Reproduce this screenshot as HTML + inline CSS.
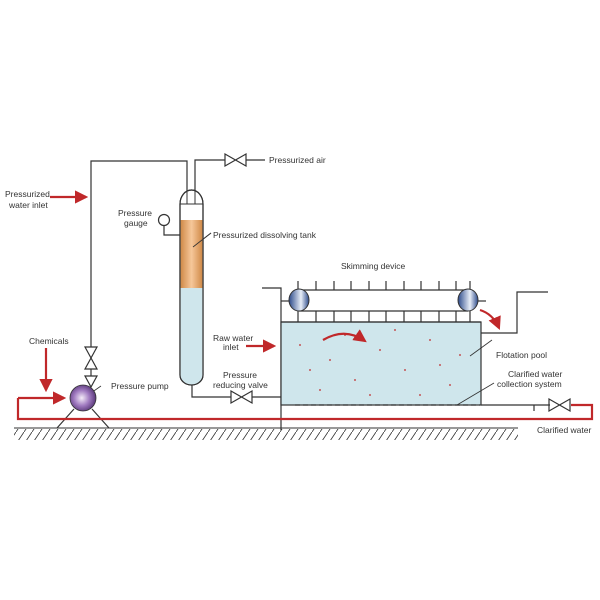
<!DOCTYPE html>
<html><head><meta charset="utf-8"><style>
html,body{margin:0;padding:0;background:#fff;}
svg{display:block;}
text{font-family:"Liberation Sans",sans-serif;font-size:8.5px;fill:#333;}
</style></head><body>
<svg width="600" height="600" viewBox="0 0 600 600" xmlns="http://www.w3.org/2000/svg">
<defs>
<radialGradient id="pump" cx="0.45" cy="0.5" r="0.6"><stop offset="0" stop-color="#f4ecf8"/><stop offset="0.5" stop-color="#a07ac0"/><stop offset="1" stop-color="#4a2a6a"/></radialGradient>
<linearGradient id="orange" x1="0" x2="1"><stop offset="0" stop-color="#d08a48"/><stop offset="0.5" stop-color="#f6c79a"/><stop offset="1" stop-color="#d08a48"/></linearGradient>
<linearGradient id="roll" x1="0" x2="1"><stop offset="0" stop-color="#2c4a8a"/><stop offset="0.6" stop-color="#e8eef8"/><stop offset="1" stop-color="#2c4a8a"/></linearGradient>
<pattern id="hatch" width="8" height="12" patternUnits="userSpaceOnUse"><line x1="8" y1="0" x2="0" y2="12" stroke="#333" stroke-width="0.8"/></pattern>
<marker id="ar" markerWidth="6" markerHeight="6" refX="5" refY="3" orient="auto" markerUnits="strokeWidth"><path d="M0,0 L6,3 L0,6 z" fill="#c0282a"/></marker>
</defs>
<!-- ground -->
<rect x="14" y="429" width="504" height="11" fill="url(#hatch)"/>
<line x1="14" y1="428" x2="518" y2="428" stroke="#333" stroke-width="1"/>
<g stroke="#333" stroke-width="1.2" fill="none">
<!-- water line -->
<polyline points="91,347 91,161 187,161 187,195"/>
<polyline points="195,195 195,160 225,160"/>
<line x1="246" y1="160" x2="265" y2="160"/>
<path d="M225,154 L246,166 L246,154 L225,166 Z"/>
<!-- valves near pump -->
<path d="M85,347 L97,369 L85,369 L97,347 Z"/>
<path d="M85,376 L97,376 L91,387 Z"/>
<line x1="91" y1="369" x2="91" y2="376"/>
<!-- gauge -->
<circle cx="164" cy="220" r="5.5"/>
<polyline points="164,226 164,235 180,235"/>
<line x1="193" y1="247" x2="211" y2="233" stroke-width="0.8"/>
<!-- pump legs -->
<line x1="74" y1="409" x2="57" y2="428"/>
<line x1="92" y1="409" x2="109" y2="428"/>
<line x1="88" y1="395" x2="101" y2="386" stroke-width="0.8"/>
<!-- tank bottom pipe -->
<polyline points="192,385 192,397 231,397"/>
<path d="M231,391 L252,403 L252,391 L231,403 Z"/>
<polyline points="252,397 295,397 295,405"/>
<!-- vertical pipe -->
<polyline points="262,288 281,288 281,430"/>
</g>
<!-- tank -->
<path d="M180,204 A11.5,14 0 0 1 203,204 L203,375 A11.5,10 0 0 1 180,375 Z" fill="#fff" stroke="#333" stroke-width="1.2"/>
<rect x="180.6" y="220" width="21.8" height="68" fill="url(#orange)"/>
<path d="M180.6,288 L202.4,288 L202.4,375 A10.9,9.5 0 0 1 180.6,375 Z" fill="#cfe6ec"/>
<path d="M180,204 A11.5,14 0 0 1 203,204 L203,375 A11.5,10 0 0 1 180,375 Z" fill="none" stroke="#333" stroke-width="1.2"/>
<line x1="180" y1="204" x2="203" y2="204" stroke="#333"/>
<line x1="187" y1="190" x2="187" y2="204" stroke="#333"/>
<line x1="195" y1="190" x2="195" y2="204" stroke="#333"/>
<line x1="193" y1="247" x2="211" y2="233" stroke="#333" stroke-width="0.8"/>
<!-- pump -->
<circle cx="83" cy="398" r="13" fill="url(#pump)" stroke="#333" stroke-width="0.8"/>
<!-- pool -->
<rect x="281" y="322" width="200" height="83" fill="#cfe6ec" stroke="#333" stroke-width="1.2"/>
<g fill="#c0282a">
<circle cx="300" cy="345" r="0.9"/><circle cx="330" cy="360" r="0.9"/><circle cx="355" cy="380" r="0.9"/><circle cx="380" cy="350" r="0.9"/><circle cx="405" cy="370" r="0.9"/><circle cx="430" cy="340" r="0.9"/><circle cx="450" cy="385" r="0.9"/><circle cx="320" cy="390" r="0.9"/><circle cx="370" cy="395" r="0.9"/><circle cx="420" cy="395" r="0.9"/><circle cx="460" cy="355" r="0.9"/><circle cx="345" cy="335" r="0.9"/><circle cx="395" cy="330" r="0.9"/><circle cx="310" cy="370" r="0.9"/><circle cx="440" cy="365" r="0.9"/>
</g>
<line x1="295" y1="405" x2="480" y2="405" stroke="#333" stroke-width="1.2" stroke-dasharray="5,3"/>
<g stroke="#333" stroke-width="1.2" fill="none">
<line x1="281" y1="322" x2="481" y2="322"/>
<line x1="299" y1="290" x2="468" y2="290"/>
<line x1="299" y1="311" x2="468" y2="311"/>
<path d="M298,290 v-9 M316,290 v-9 M334,290 v-9 M351,290 v-9 M369,290 v-9 M386,290 v-9 M404,290 v-9 M421,290 v-9 M439,290 v-9 M456,290 v-9 M470,290 v-9"/>
<path d="M298,311 v11 M316,311 v11 M334,311 v11 M351,311 v11 M369,311 v11 M386,311 v11 M404,311 v11 M421,311 v11 M439,311 v11 M456,311 v11 M470,311 v11"/>
<line x1="281" y1="301" x2="290" y2="301"/>
<line x1="478" y1="301" x2="486" y2="301"/>
<polyline points="481,333 517,333 517,292 548,292"/>
<polyline points="481,405 550,405"/>
<line x1="534" y1="405" x2="534" y2="411"/>
<path d="M549,399 L570,411 L570,399 L549,411 Z"/>
<line x1="470" y1="356" x2="492" y2="340" stroke-width="0.8"/>
<line x1="457" y1="405" x2="494" y2="383" stroke-width="0.8"/>
</g>
<ellipse cx="299" cy="300" rx="10" ry="11" fill="url(#roll)" stroke="#333"/>
<ellipse cx="468" cy="300" rx="10" ry="11" fill="url(#roll)" stroke="#333"/>
<!-- red -->
<g stroke="#c0282a" stroke-width="2.2" fill="none">
<polyline points="18,398 18,419 592,419 592,405 571,405"/>
<line x1="18" y1="398" x2="64" y2="398" marker-end="url(#ar)"/>
<line x1="46" y1="348" x2="46" y2="390" marker-end="url(#ar)"/>
<line x1="50" y1="197" x2="86" y2="197" marker-end="url(#ar)"/>
<line x1="246" y1="346" x2="274" y2="346" marker-end="url(#ar)"/>
<path d="M323,340 Q345,327 365,341" marker-end="url(#ar)"/>
<path d="M480,310 Q493,314 499,328" marker-end="url(#ar)"/>
</g>
<!-- labels -->
<text x="5" y="197">Pressurized</text>
<text x="9" y="208">water inlet</text>
<text x="118" y="216">Pressure</text>
<text x="124" y="226">gauge</text>
<text x="213" y="238">Pressurized dissolving tank</text>
<text x="269" y="163">Pressurized air</text>
<text x="341" y="269">Skimming device</text>
<text x="213" y="341">Raw water</text>
<text x="223" y="350">inlet</text>
<text x="29" y="344">Chemicals</text>
<text x="111" y="389">Pressure pump</text>
<text x="223" y="378">Pressure</text>
<text x="213" y="388">reducing valve</text>
<text x="496" y="358">Flotation pool</text>
<text x="508" y="377">Clarified water</text>
<text x="497" y="387">collection system</text>
<text x="537" y="433">Clarified water</text>
</svg>
</body></html>
